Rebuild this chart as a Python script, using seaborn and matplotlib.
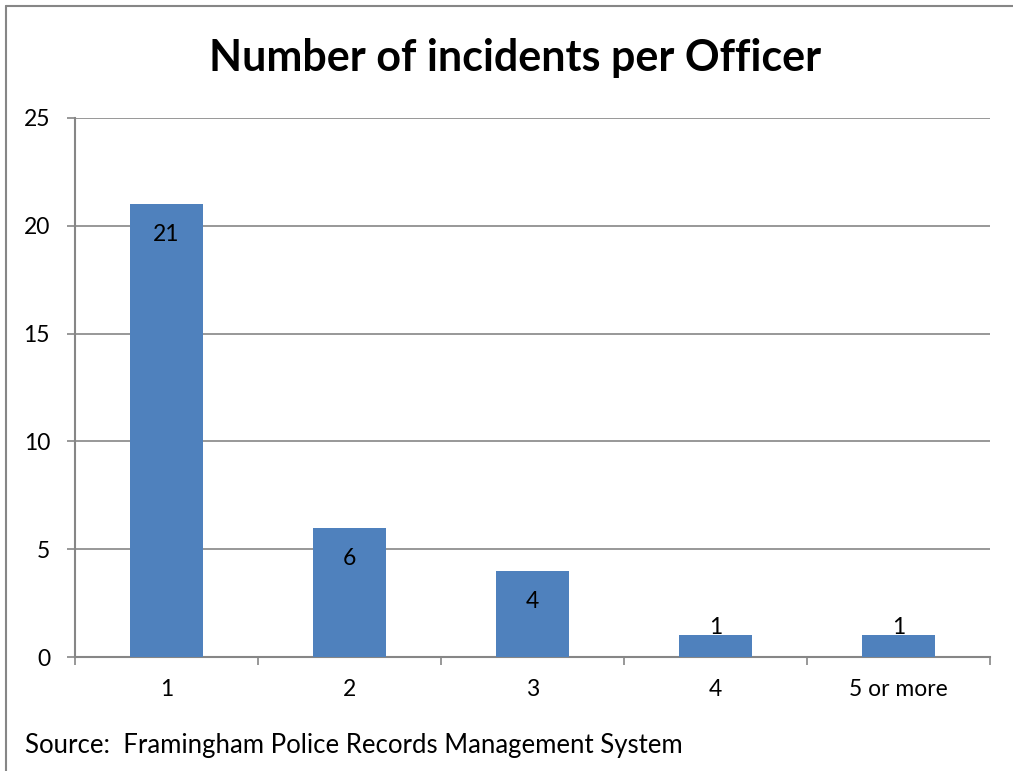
import matplotlib
matplotlib.use("Agg")
import matplotlib.pyplot as plt
from matplotlib.lines import Line2D
import seaborn as sns
import pandas as pd

# data
categories = ["1", "2", "3", "4", "5 or more"]
incidents = [21, 6, 4, 1, 1]
y_ticks = [0, 5, 10, 15, 20, 25]

title = "Number of incidents per Officer"
source = "Source:  Framingham Police Records Management System"

bar_color = "#4F81BD"
grid_color = "#868686"

sns.set_theme(style="white")
plt.rcParams["font.family"] = ["Lato", "DejaVu Sans"]

df = pd.DataFrame({"cat": categories, "n": incidents})

fig = plt.figure(figsize=(10.13, 7.71), dpi=100)
ax = fig.add_axes([75 / 1013, 1 - 657 / 771, 915 / 1013, 539 / 771])

sns.barplot(data=df, x="cat", y="n", color=bar_color, width=0.4,
            saturation=1, linewidth=0, ax=ax, zorder=3)

ax.set_ylim(0, 25)
ax.set_xlim(-0.5, len(categories) - 0.5)
ax.set_yticks(y_ticks)
ax.set_yticklabels([str(t) for t in y_ticks], fontsize=16.5)
ax.set_xticklabels(categories, fontsize=16.5)
ax.set_xlabel("")
ax.set_ylabel("")

# gridlines
ax.yaxis.grid(True, color=grid_color, linewidth=1.2, zorder=0)
ax.set_axisbelow(True)

for side in ["top", "right"]:
    ax.spines[side].set_visible(False)
for side in ["left", "bottom"]:
    ax.spines[side].set_color(grid_color)
    ax.spines[side].set_linewidth(1.5)

# y tick marks out to the left; x tick marks at category boundaries
ax.tick_params(axis="y", direction="out", length=6, width=1.2,
               color=grid_color, left=True, pad=12, labelcolor="black")
ax.tick_params(axis="x", which="major", length=0, pad=16, labelcolor="black")
ax.set_xticks([i - 0.5 for i in range(len(categories) + 1)], minor=True)
ax.tick_params(axis="x", which="minor", direction="out", length=6,
               width=1.2, color=grid_color, bottom=True)

# value labels, inside end of the bar (or just above for tiny bars)
for i, v in enumerate(incidents):
    off = -22 if v > 2 else 6
    ax.annotate(str(v), xy=(i, v), xytext=(0, off), textcoords="offset points",
                ha="center", va="center", fontsize=16.5, color="black", zorder=4)

fig.text(0.508, 1 - 58 / 771, title, ha="center", va="center",
         fontsize=31, fontweight="bold", color="black")
fig.text(25 / 1013, 1 - 745 / 771, source, ha="left", va="center",
         fontsize=18.5, color="black")

# chart frame (left and top edges visible)
fig.add_artist(Line2D([6 / 1013, 6 / 1013], [0, 1 - 6 / 771],
                      transform=fig.transFigure, color=grid_color, linewidth=1.5))
fig.add_artist(Line2D([6 / 1013, 1], [1 - 6 / 771, 1 - 6 / 771],
                      transform=fig.transFigure, color=grid_color, linewidth=1.5))

fig.savefig("out.png", dpi=100)
